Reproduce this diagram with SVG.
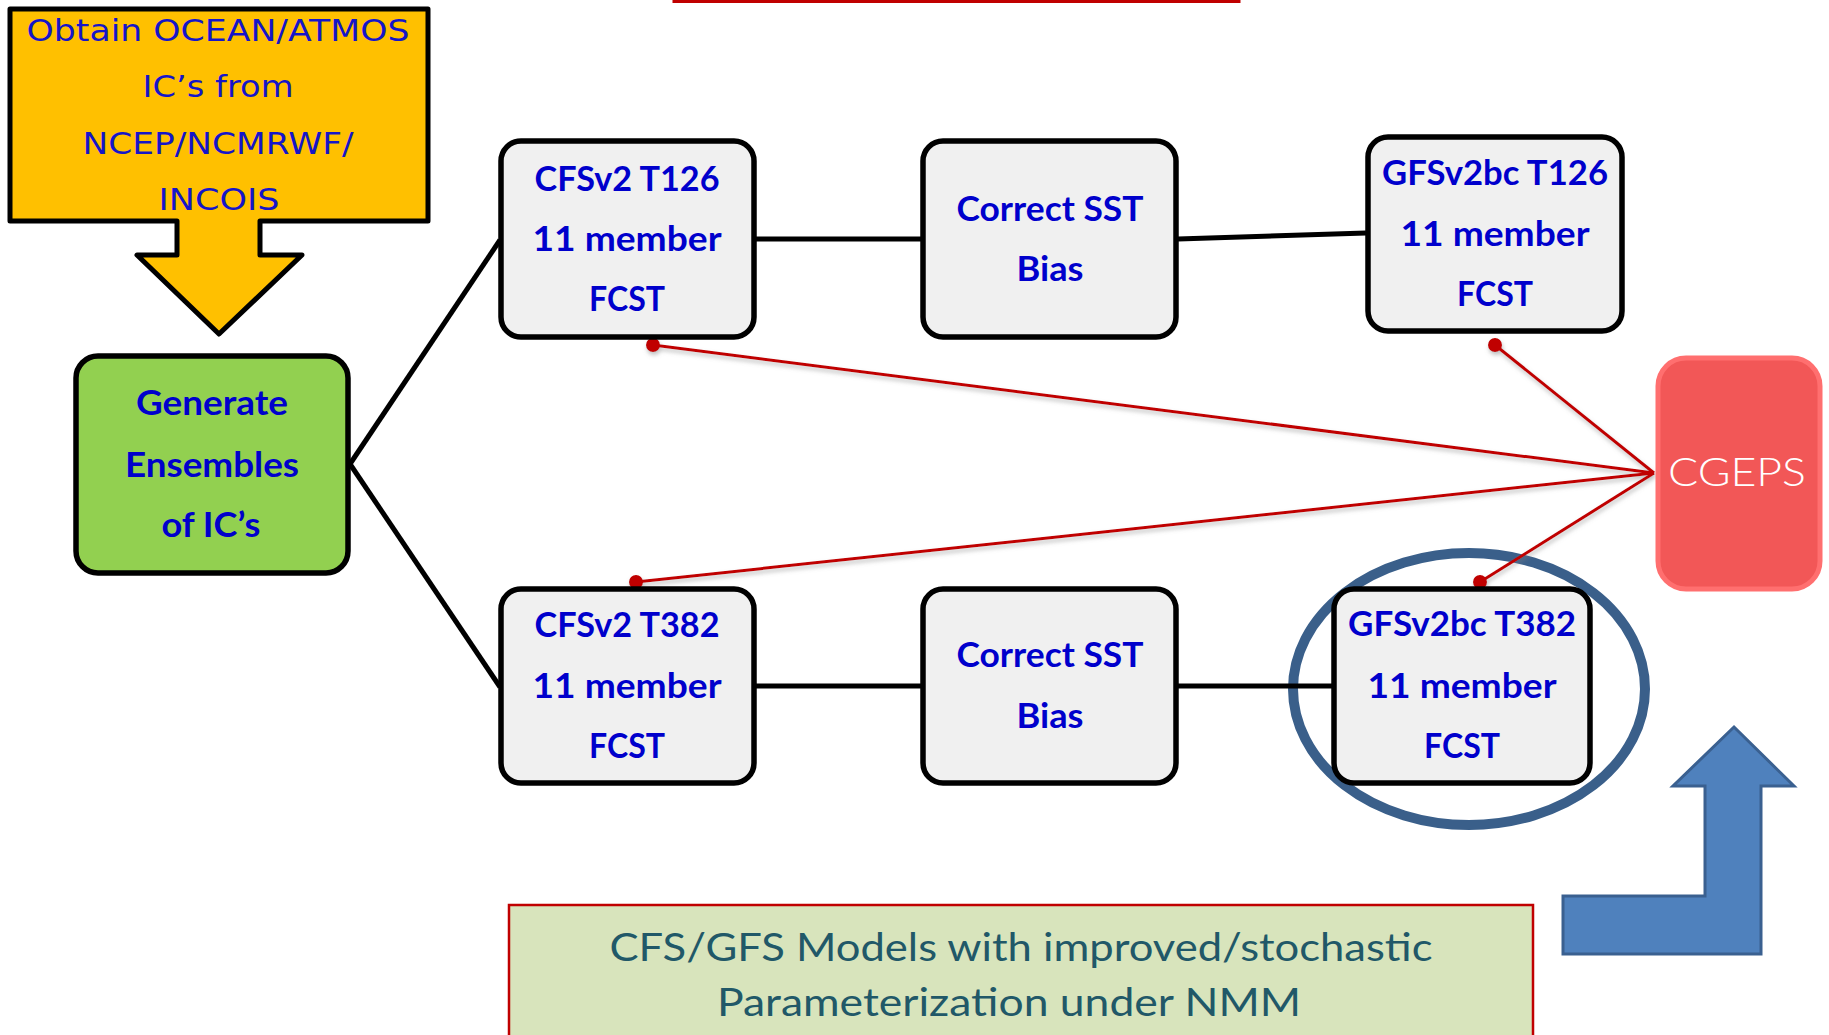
<svg xmlns="http://www.w3.org/2000/svg" width="1829" height="1035" viewBox="0 0 1829 1035">
  <style>
    .box { fill: #F0F0F0; stroke: #000; stroke-width: 5.5; }
    .lbl { font-family: Lato, "Liberation Sans", sans-serif; font-weight: 700; font-size: 35px; fill: #0000CC; text-anchor: middle; }
    .obt { font-family: "DejaVu Sans", Verdana, sans-serif; font-size: 31px; fill: #1515C8; text-anchor: middle; }
    .link { stroke: #000; stroke-width: 5; fill: none; }
    .red { stroke: #C00000; stroke-width: 3; fill: none; }
    .dot { fill: #C00000; }
    .note { font-family: Lato, "Liberation Sans", sans-serif; font-size: 39px; fill: #215868; text-anchor: middle; }
  </style>
  <defs>
    <filter id="shadow" x="-5%" y="-20%" width="110%" height="140%">
      <feDropShadow dx="1" dy="3" stdDeviation="2" flood-color="#808080" flood-opacity="0.5"/>
    </filter>
  </defs>

  <rect width="1829" height="1035" fill="#FFFFFF"/>

  <!-- top banner edge -->
  <rect x="674" y="-40" width="565" height="41.5" fill="#D8E4BC" stroke="#C00000" stroke-width="3"/>

  <!-- highlight ring -->
  <ellipse id="highlight" cx="1469" cy="689" rx="176" ry="136" fill="none" stroke="#3A5F8A" stroke-width="10"/>

  <!-- connectors -->
  <g id="connectors">
    <path class="link" d="M350,464 L500,240"/>
    <path class="link" d="M350,464 L500,687"/>
    <path class="link" d="M756,239 L921,239"/>
    <path class="link" d="M1178,239 L1366,233"/>
    <path class="link" d="M756,686 L921,686"/>
    <path class="link" d="M1178,686 L1333,686"/>
    <g filter="url(#shadow)">
      <path class="red" d="M653,345 L1654,473"/>
      <path class="red" d="M1495,345 L1654,473"/>
      <path class="red" d="M636,582 L1654,473"/>
      <path class="red" d="M1480,582 L1654,473"/>
      <circle class="dot" cx="653" cy="345" r="7"/>
      <circle class="dot" cx="1495" cy="345" r="7"/>
      <circle class="dot" cx="636" cy="582" r="7"/>
      <circle class="dot" cx="1480" cy="582" r="7"/>
    </g>
  </g>

  <!-- source of initial conditions -->
  <g id="obtain-ic">
    <path d="M10,9 H428 V221 H260 V255 H302 L219,334 L137,255 H177 V221 H10 Z" fill="#FFC000" stroke="#000" stroke-width="5" stroke-linejoin="round"/>
    <text class="obt" x="218" y="41" textLength="383" lengthAdjust="spacingAndGlyphs">Obtain OCEAN/ATMOS</text>
    <text class="obt" x="218" y="97" textLength="151" lengthAdjust="spacingAndGlyphs">IC’s from</text>
    <text class="obt" x="218" y="154" textLength="271" lengthAdjust="spacingAndGlyphs">NCEP/NCMRWF/</text>
    <text class="obt" x="219" y="210" textLength="121" lengthAdjust="spacingAndGlyphs">INCOIS</text>
  </g>

  <!-- ensemble generation -->
  <g id="generate">
    <rect x="76" y="356" width="272" height="217" rx="22" fill="#92D050" stroke="#000" stroke-width="5.5"/>
    <text class="lbl" x="212" y="415" textLength="152" lengthAdjust="spacingAndGlyphs">Generate</text>
    <text class="lbl" x="212" y="477" textLength="174" lengthAdjust="spacingAndGlyphs">Ensembles</text>
    <text class="lbl" x="211" y="537" textLength="99" lengthAdjust="spacingAndGlyphs">of IC’s</text>
  </g>

  <g id="cfs-t126">
    <rect class="box" x="501" y="141" width="253" height="196" rx="20"/>
    <text class="lbl" x="627" y="191" textLength="185" lengthAdjust="spacingAndGlyphs">CFSv2 T126</text>
    <text class="lbl" x="627" y="251" textLength="189" lengthAdjust="spacingAndGlyphs">11 member</text>
    <text class="lbl" x="627" y="311" textLength="76" lengthAdjust="spacingAndGlyphs">FCST</text>
  </g>

  <g id="sst-top">
    <rect class="box" x="923" y="141" width="253" height="196" rx="20"/>
    <text class="lbl" x="1050" y="221" textLength="187" lengthAdjust="spacingAndGlyphs">Correct SST</text>
    <text class="lbl" x="1050" y="281" textLength="67" lengthAdjust="spacingAndGlyphs">Bias</text>
  </g>

  <g id="gfs-t126">
    <rect class="box" x="1368" y="137" width="254" height="194" rx="20"/>
    <text class="lbl" x="1495" y="185" textLength="226" lengthAdjust="spacingAndGlyphs">GFSv2bc T126</text>
    <text class="lbl" x="1495" y="246" textLength="189" lengthAdjust="spacingAndGlyphs">11 member</text>
    <text class="lbl" x="1495" y="306" textLength="76" lengthAdjust="spacingAndGlyphs">FCST</text>
  </g>

  <g id="cfs-t382">
    <rect class="box" x="501" y="589" width="253" height="194" rx="20"/>
    <text class="lbl" x="627" y="637" textLength="185" lengthAdjust="spacingAndGlyphs">CFSv2 T382</text>
    <text class="lbl" x="627" y="698" textLength="189" lengthAdjust="spacingAndGlyphs">11 member</text>
    <text class="lbl" x="627" y="758" textLength="76" lengthAdjust="spacingAndGlyphs">FCST</text>
  </g>

  <g id="sst-bottom">
    <rect class="box" x="923" y="589" width="253" height="194" rx="20"/>
    <text class="lbl" x="1050" y="667" textLength="187" lengthAdjust="spacingAndGlyphs">Correct SST</text>
    <text class="lbl" x="1050" y="728" textLength="67" lengthAdjust="spacingAndGlyphs">Bias</text>
  </g>

  <g id="gfs-t382">
    <rect class="box" x="1334" y="589" width="256" height="194" rx="20"/>
    <text class="lbl" x="1462" y="636" textLength="228" lengthAdjust="spacingAndGlyphs">GFSv2bc T382</text>
    <text class="lbl" x="1462" y="698" textLength="189" lengthAdjust="spacingAndGlyphs">11 member</text>
    <text class="lbl" x="1462" y="758" textLength="76" lengthAdjust="spacingAndGlyphs">FCST</text>
  </g>

  <!-- grand ensemble -->
  <g id="cgeps">
    <rect x="1658" y="358" width="162" height="231" rx="28" fill="#F25757" stroke="#FF6F6F" stroke-width="5"/>
    <text x="1737" y="486" font-family="Lato, 'Liberation Sans', sans-serif" font-weight="300" font-size="39" fill="#FFFFFF" text-anchor="middle" textLength="138" lengthAdjust="spacingAndGlyphs">CGEPS</text>
  </g>

  <!-- upward bent arrow -->
  <g id="bent-arrow">
    <path d="M1734,727 L1794,786 H1761 V954 H1563 V896 H1705 V786 H1673 Z" fill="#4F81BD" stroke="#3A6090" stroke-width="3" stroke-linejoin="miter"/>
  </g>

  <!-- note panel -->
  <g id="note">
    <rect x="509" y="905" width="1024" height="200" fill="#D8E4BC" stroke="#C00000" stroke-width="2.5"/>
    <text class="note" x="1021" y="961" textLength="823" lengthAdjust="spacingAndGlyphs">CFS/GFS Models with improved/stochastic</text>
    <text class="note" x="1009" y="1016" textLength="584" lengthAdjust="spacingAndGlyphs">Parameterization under NMM</text>
  </g>
</svg>
